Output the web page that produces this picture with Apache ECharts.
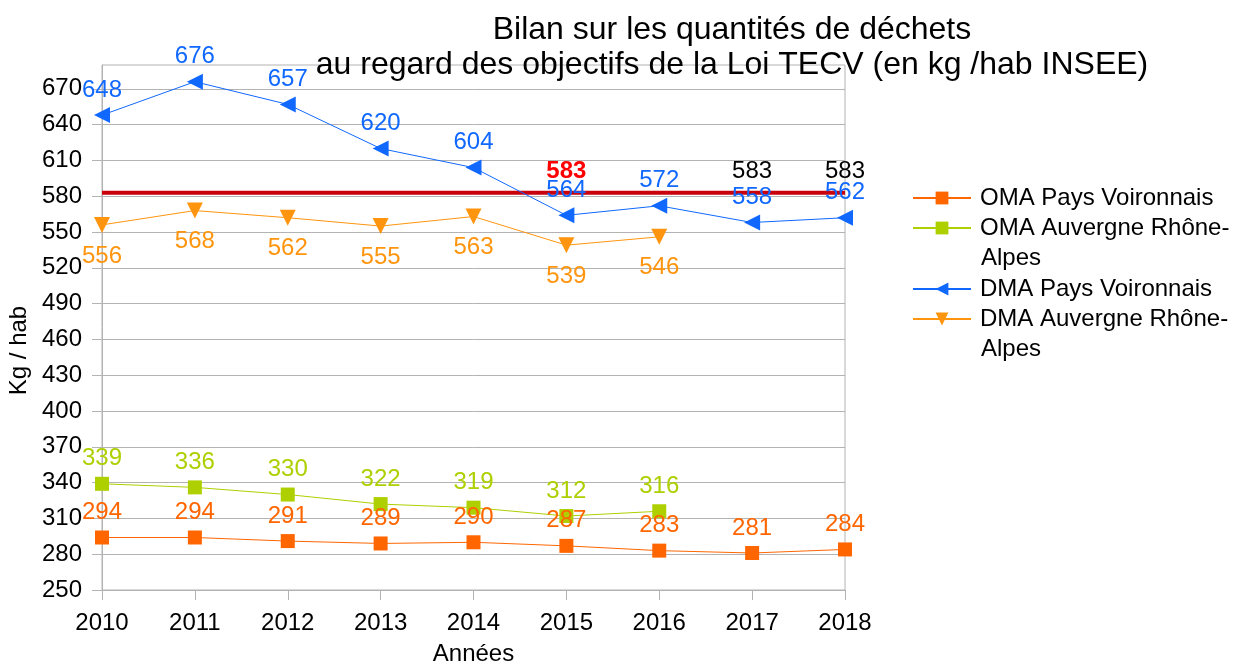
<!DOCTYPE html>
<html>
<head>
<meta charset="utf-8">
<title>Bilan déchets</title>
<script src="https://cdn.jsdelivr.net/npm/echarts@6/dist/echarts.min.js"></script>
<style>
  html, body { margin: 0; padding: 0; background: #fff; }
  #chart { width: 1234px; height: 663px; }
</style>
</head>
<body>
<div id="chart"></div>
<script>
/* ---------- données ---------- */
const annees = ["2010", "2011", "2012", "2013", "2014", "2015", "2016", "2017", "2018"];
const omaVoironnais = [294, 294, 291, 289, 290, 287, 283, 281, 284];
const omaAura      = [339, 336, 330, 322, 319, 312, 316, null, null];
const dmaVoironnais = [648, 676, 657, 620, 604, 564, 572, 558, 562];
const dmaAura      = [556, 568, 562, 555, 563, 539, 546, null, null];
const objectif     = [583, 583, 583, 583, 583, 583, 583, 583, 583];
const objectifLabels = ["", "", "", "", "", "red", "", "black", "black"];   // étiquettes affichées
const yTicks = [250, 280, 310, 340, 370, 400, 430, 460, 490, 520, 550, 580, 610, 640, 670];

const FONT = "Liberation Sans, Arial, sans-serif";

/* ---------- série objectif ---------- */
const objectifData = objectif.map((v, i) => {
    const kind = objectifLabels[i];
    if (!kind) return { value: v, label: { show: false } };
    return {
        value: v,
        label: {
            show: true,
            color: kind === "red" ? "#ff0000" : "#000",
            fontWeight: kind === "red" ? "bold" : "normal",
        },
    };
});

function serie(name, data, color, symbol, size, rotate, pos, dist) {
    return {
        name, type: "line", data,
        color,
        symbol, symbolSize: size, symbolRotate: rotate,
        lineStyle: { width: 1, color },
        itemStyle: { color },
        label: { show: true, position: pos, distance: dist, color, fontSize: 24, fontFamily: FONT },
        z: 3,
    };
}

/* ---------- légende : un bloc par entrée ---------- */
const legendItems = [
    { name: "OMA Pays Voironnais", top: 183 },
    { name: "OMA Auvergne Rhône-Alpes", top: 213 },
    { name: "DMA Pays Voironnais", top: 274 },
    { name: "DMA Auvergne Rhône-Alpes", top: 304 },
];
const legends = legendItems.map((it) => ({
    orient: "vertical", left: 912, top: it.top,
    itemWidth: 58, itemHeight: 16, padding: 0,
    data: [it.name],
    formatter: (n) => n.replace("Rhône-Alpes", "Rhône-"),
    textStyle: { fontFamily: FONT, fontSize: 24, lineHeight: 30, color: "#000", padding: [0, 0, 0, 4] },
}));

const chart = echarts.init(document.getElementById("chart"));
chart.setOption({
    animation: false,
    title: {
        text: "Bilan sur les quantités de déchets\nau regard des objectifs de la Loi TECV (en kg /hab INSEE)",
        left: 727, top: 8, textAlign: "center",
        textStyle: { fontFamily: FONT, fontWeight: "normal", fontSize: 32, lineHeight: 35, color: "#000" },
    },
    legend: legends,
    graphic: [
        { type: "text", left: 981, top: 246, style: { text: "Alpes", font: "24px " + FONT, fill: "#000" } },
        { type: "text", left: 981, top: 337, style: { text: "Alpes", font: "24px " + FONT, fill: "#000" } },
    ],
    grid: {
        left: 102, right: 389, top: 65, bottom: 73,
        outerBoundsMode: "none", containLabel: false,
        show: true, borderColor: "#b3b3b3", borderWidth: 1,
    },
    xAxis: {
        type: "category", data: annees, boundaryGap: false,
        name: "Années", nameLocation: "middle", nameGap: 52,
        nameTextStyle: { fontFamily: FONT, fontSize: 24, color: "#000" },
        axisLine: { lineStyle: { color: "#b3b3b3" } },
        axisTick: { show: true, length: 10, alignWithLabel: true, lineStyle: { color: "#b3b3b3" } },
        axisLabel: { fontFamily: FONT, fontSize: 24, color: "#000", margin: 21 },
        splitLine: { show: false },
    },
    yAxis: {
        type: "value", min: 250, max: 690, interval: 30,
        name: "Kg / hab", nameLocation: "middle", nameGap: 63,
        nameTextStyle: { fontFamily: FONT, fontSize: 24, color: "#000", padding: [0, 0, 0, -46] },
        axisLine: { show: true, lineStyle: { color: "#b3b3b3" } },
        axisTick: { show: true, length: 10, customValues: yTicks, lineStyle: { color: "#b3b3b3" } },
        axisLabel: {
            fontFamily: FONT, fontSize: 24, color: "#000", margin: 20,
            customValues: yTicks,
        },
        splitLine: { lineStyle: { color: "#b3b3b3" } },
    },
    series: [
        {
            name: "Objectif", type: "line", data: objectifData,
            symbol: "circle", symbolSize: 2, showSymbol: true,
            itemStyle: { color: "rgba(0,0,0,0)" },
            lineStyle: { width: 4, color: "#c9000b" },
            label: { show: true, position: "top", distance: 8, fontSize: 24, fontFamily: FONT },
            z: 2,
        },
        serie("OMA Pays Voironnais", omaVoironnais, "#ff6600", "rect", 14, 0, "top", 6),
        serie("OMA Auvergne Rhône-Alpes", omaAura, "#aecf00", "rect", 14, 0, "top", 6),
        serie("DMA Pays Voironnais", dmaVoironnais, "#1068ff", "triangle", 16, 90, "top", 5),
        serie("DMA Auvergne Rhône-Alpes", dmaAura, "#ff950e", "triangle", 16, 180, "bottom", 11),
    ],
});
</script>
</body>
</html>
